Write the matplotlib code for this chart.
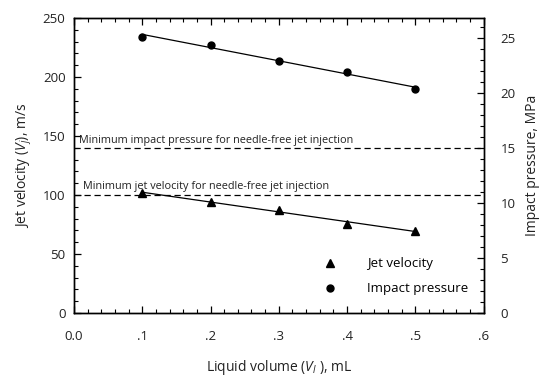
import numpy as np
import matplotlib
matplotlib.use("Agg")
import matplotlib.pyplot as plt
from matplotlib.ticker import MultipleLocator, FuncFormatter

plt.rcParams['font.family'] = ['Open Sans', 'DejaVu Sans']
plt.rcParams['mathtext.fontset'] = 'custom'
plt.rcParams['mathtext.it'] = 'Open Sans:italic'
plt.rcParams['mathtext.rm'] = 'Open Sans'

# Data
volume = [0.1, 0.2, 0.3, 0.4, 0.5]            # mL
jet_velocity = [101.9, 94.3, 87.3, 75.4, 69.7]  # m/s
impact_pressure = [25.1, 24.3, 22.9, 21.9, 20.3]  # MPa

min_velocity = 100    # m/s
min_pressure = 15     # MPa

fig = plt.figure(figsize=(5.43, 3.79), dpi=100)
ax = fig.add_axes([0.136, 0.174, 0.755, 0.7785])
ax2 = ax.twinx()

ax.set_xlim(0, 0.6)
ax.set_ylim(0, 250)
ax2.set_ylim(0, 250 * 15 / 140)

# fitted lines
xs = np.array([volume[0], volume[-1]])
kv = np.polyfit(volume, jet_velocity, 1)
kp = np.polyfit(volume, impact_pressure, 1)
ax.plot(xs, np.polyval(kv, xs), color='black', lw=0.9)
ax2.plot(xs, np.polyval(kp, xs), color='black', lw=0.9)

ax.plot(volume, jet_velocity, '^', color='black', ms=5.5, label='Jet velocity')
ax2.plot(volume, impact_pressure, 'o', color='black', ms=5, label='Impact pressure')

# threshold lines
ax.axhline(min_velocity, color='black', lw=0.9, ls=(0, (5, 3)))
ax2.axhline(min_pressure, color='black', lw=0.9, ls=(0, (5, 3)))
ax.text(0.014, min_velocity + 2.5, 'Minimum jet velocity for needle-free jet injection',
        fontsize=7.8, va='bottom', ha='left', color='#222222')
ax2.text(0.008, min_pressure + 0.15, 'Minimum impact pressure for needle-free jet injection',
         fontsize=7.8, va='bottom', ha='left', color='#222222')

h1, l1 = ax.get_legend_handles_labels()
h2, l2 = ax2.get_legend_handles_labels()
leg = ax2.legend(h1 + h2, l1 + l2, loc='lower right', frameon=False, fontsize=9.5,
                 handlelength=1.5, handletextpad=2.0, labelspacing=0.9,
                 bbox_to_anchor=(0.99, 0.02))

# ticks
ax.xaxis.set_major_locator(MultipleLocator(0.1))
ax.xaxis.set_minor_locator(MultipleLocator(0.02))
ax.yaxis.set_major_locator(MultipleLocator(50))
ax.yaxis.set_minor_locator(MultipleLocator(10))
ax2.yaxis.set_major_locator(MultipleLocator(5))
ax2.yaxis.set_minor_locator(MultipleLocator(1))

def xfmt(v, pos):
    if abs(v) < 1e-9:
        return '0.0'
    return ('%.1f' % v).lstrip('0')

ax.xaxis.set_major_formatter(FuncFormatter(xfmt))

ax.tick_params(axis='x', which='both', direction='in', top=True, labelsize=9.5, pad=12)
ax.tick_params(axis='y', which='both', direction='in', labelsize=9.5, pad=6)
ax2.tick_params(axis='y', which='both', direction='in', labelsize=9.5, pad=12)
for a in (ax, ax2):
    a.tick_params(which='major', length=5, width=0.9, labelcolor='#222222')
    a.tick_params(which='minor', length=3, width=0.8)
    for s in a.spines.values():
        s.set_linewidth(1.0)

ax.set_xlabel('Liquid volume ($V_l$ ), mL', fontsize=10, labelpad=11, color='#222222')
ax.set_ylabel('Jet velocity ($V_j$), m/s', fontsize=10, labelpad=6, color='#222222')
ax2.set_ylabel('Impact pressure, MPa', fontsize=10, labelpad=7, color='#222222')

fig.savefig('out.png', dpi=100)
